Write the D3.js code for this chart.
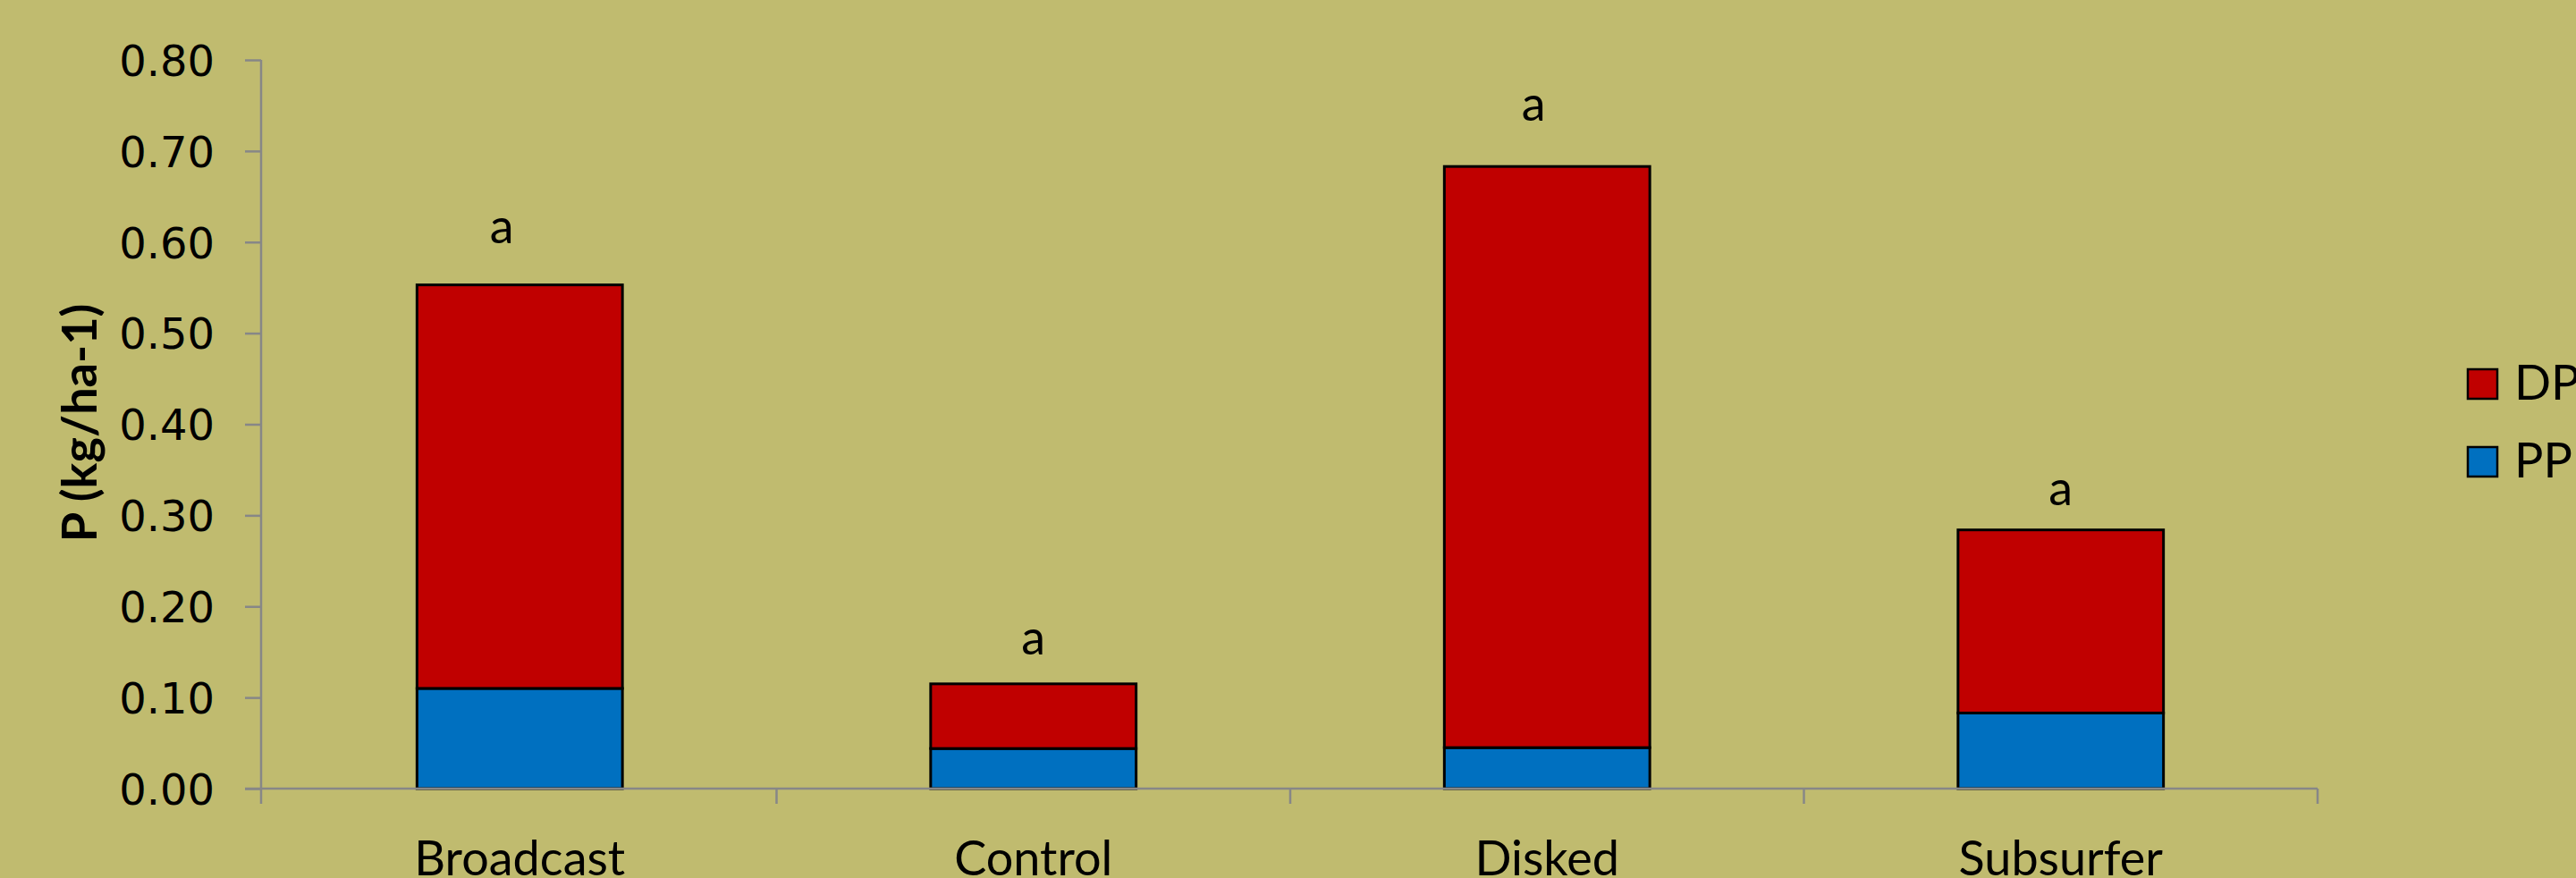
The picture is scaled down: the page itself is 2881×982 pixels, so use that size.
<!DOCTYPE html>
<html>
<head>
<meta charset="utf-8">
<script src="https://cdn.jsdelivr.net/npm/d3@7"></script>
<style>
  html, body { margin: 0; padding: 0; background: #c0bb6f; }
  svg { display: block; }
</style>
</head>
<body>
<svg id="chart" width="2881" height="982"></svg>
<script>
// Phosphorus loss by application method (kg/ha-1)
const categories = ["Broadcast", "Control", "Disked", "Subsurfer"];
const ppValues = [0.110, 0.044, 0.045, 0.083];   // particulate P
const dpValues = [0.443, 0.071, 0.638, 0.201];   // dissolved P
const letters = ["a", "a", "a", "a"];
const letterLevels = [0.599, 0.147, 0.733, 0.311]; // height of the significance letters
const yTicks = [0, 0.1, 0.2, 0.3, 0.4, 0.5, 0.6, 0.7, 0.8];
const seriesNames = ["DP", "PP"];

const colors = { PP: "#0070c0", DP: "#c00000" };
const axisColor = "#878787";
const labelFont = "Lato, 'Open Sans', sans-serif";

const svg = d3.select("#chart");

const x = d3.scaleBand()
  .domain(categories)
  .range([294, 2592])
  .paddingInner(0.6)
  .paddingOuter(0.3);

const y = d3.scaleLinear().domain([0, 0.8]).range([882, 67]);

const rows = categories.map((c, i) => ({ cat: c, PP: ppValues[i], DP: dpValues[i] }));
const stacked = d3.stack().keys(["PP", "DP"])(rows);

// bars
svg.append("g").selectAll("g")
  .data(stacked)
  .join("g")
  .attr("fill", d => colors[d.key])
  .selectAll("rect")
  .data(d => d)
  .join("rect")
  .attr("x", d => x(d.data.cat))
  .attr("width", x.bandwidth())
  .attr("y", d => y(d[1]))
  .attr("height", d => y(d[0]) - y(d[1]))
  .attr("stroke", "#000")
  .attr("stroke-width", 3);

// y axis
const yAxis = svg.append("g")
  .attr("transform", `translate(${x.range()[0] - 2},0)`)
  .call(d3.axisLeft(y).tickValues(yTicks).tickFormat(d3.format(".2f")).tickSize(18).tickSizeOuter(0).tickPadding(34));
yAxis.select(".domain").attr("d", `M0,${y(0.8)}V${y(0) + 17}`);
yAxis.selectAll("line, .domain").attr("stroke", axisColor).attr("stroke-width", 2.5);
yAxis.selectAll("text")
  .attr("fill", "#000")
  .style("font-family", "'DejaVu Sans', sans-serif")
  .style("font-size", "48px")
  .attr("dy", "0.36em");

// x axis baseline with ticks between categories
const xAxis = svg.append("g").attr("transform", `translate(0,${y(0)})`);
xAxis.append("line")
  .attr("x1", x.range()[0] - 20).attr("x2", x.range()[1])
  .attr("stroke", axisColor).attr("stroke-width", 2.5);
const bounds = categories.map(c => x(c) - x.step() * x.paddingInner() / 2 + x.step());
xAxis.selectAll(".tk")
  .data(bounds)
  .join("line")
  .attr("x1", d => d).attr("x2", d => d)
  .attr("y1", 0).attr("y2", 17)
  .attr("stroke", axisColor).attr("stroke-width", 2.5);
xAxis.selectAll(".cat")
  .data(categories)
  .join("text")
  .attr("x", d => x(d) + x.bandwidth() / 2)
  .attr("y", 97)
  .attr("text-anchor", "middle")
  .style("font-family", labelFont)
  .style("font-size", "54px")
  .text(d => d);

// significance letters
const letterNudge = { Broadcast: -20, Disked: -15 };
svg.append("g").selectAll("text")
  .data(categories)
  .join("text")
  .attr("x", (d) => x(d) + x.bandwidth() / 2 + (letterNudge[d] || 0))
  .attr("y", (d, i) => y(letterLevels[i]))
  .attr("text-anchor", "middle")
  .style("font-family", labelFont)
  .style("font-size", "54px")
  .text((d, i) => letters[i]);

// y axis title
svg.append("text")
  .attr("transform", "translate(108,473) rotate(-90)")
  .attr("text-anchor", "middle")
  .style("font-family", labelFont)
  .style("font-weight", "bold")
  .style("font-size", "54px")
  .text("P (kg/ha-1)");

// legend
const legend = svg.append("g").selectAll("g")
  .data(seriesNames)
  .join("g")
  .attr("transform", (d, i) => `translate(2760,${413 + i * 87})`);
legend.append("rect")
  .attr("width", 33).attr("height", 33)
  .attr("fill", d => colors[d])
  .attr("stroke", "#000").attr("stroke-width", 2.5);
legend.append("text")
  .attr("x", 52).attr("y", 34)
  .style("font-family", labelFont)
  .style("font-size", "54px")
  .text(d => d);
</script>
</body>
</html>
